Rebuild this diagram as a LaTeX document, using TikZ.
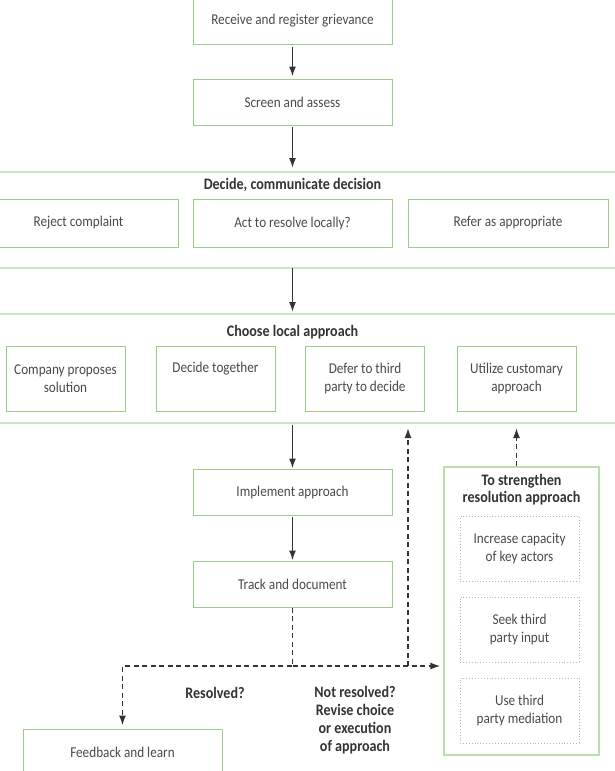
\documentclass[tikz,border=0pt]{standalone}
\usepackage{fontspec}
\setmainfont{Carlito}[FakeStretch=0.88]
\usetikzlibrary{arrows.meta}
\definecolor{gbox}{HTML}{98CE88}
\definecolor{gband}{HTML}{C8E6BF}
\definecolor{txt}{HTML}{4A4A4A}
\definecolor{arrc}{HTML}{333333}
\begin{document}
\begin{tikzpicture}[x=1pt,y=-1pt,
  box/.style={draw=gbox,line width=1pt,minimum width=199pt,minimum height=46pt,inner sep=0pt,text=txt,font=\fontsize{15}{18}\selectfont,align=center},
  appbox/.style={box,minimum width=119pt,minimum height=65pt},
  dotbox/.style={draw=gbox,line width=0.9pt,dotted,minimum width=119pt,minimum height=65pt,inner sep=0pt,text=txt,font=\fontsize{15}{18}\selectfont,align=center},
  outerbox/.style={draw=gband!70!gbox,line width=1.1pt,minimum width=155pt,minimum height=288pt,inner sep=0pt},
  ttl/.style={text=arrc,font=\bfseries\fontsize{16}{17}\selectfont,align=center,inner sep=0pt},
  bandline/.style={draw=gband,line width=1.2pt},
  sarr/.style={draw=arrc,line width=1.6pt,-{Latex[length=10pt,width=7pt]}},
  darr/.style={draw=arrc,line width=1.6pt,dash pattern=on 5pt off 3.5pt,-{Latex[length=10pt,width=7pt]}}
]
\clip (0,0) rectangle (615,771);
\fill[white] (0,0) rectangle (615,771);

% band coordinates
\coordinate (b1t) at (0,172);
\coordinate (b1b) at (0,268);
\coordinate (b2t) at (0,314);
\coordinate (b2b) at (0,423);
\coordinate (b1tr) at (615,172);
\coordinate (b1br) at (615,268);
\coordinate (b2tr) at (615,314);
\coordinate (b2br) at (615,423);
\draw[bandline] (b1t) -- (b1tr);
\draw[bandline] (b1b) -- (b1br);
\draw[bandline] (b2t) -- (b2tr);
\draw[bandline] (b2b) -- (b2br);

% main column
\node[box] (recv) at (292.5,21) {Receive and register grievance};
\node[box] (screen) at (292.5,102) {Screen and assess};

\node[ttl] (t1) at (292.5,185) {Decide, communicate decision};
\node[box,minimum height=48pt] (reject) at (78.5,223) {Reject complaint};
\node[box,minimum height=48pt] (act) at (292.5,223) {Act to resolve locally?};
\node[box,minimum height=48pt,minimum width=200pt] (refer) at (508,223) {Refer as appropriate};

\node[ttl] (t2) at (292.5,332) {Choose local approach};
\node[appbox] (company) at (65.5,378.5) {Company proposes\\solution};
\node[appbox] (together) at (215.5,378.5) {Decide together\\\strut};
\node[appbox] (defer) at (365,378.5) {Defer to third\\party to decide};
\node[appbox] (util) at (516.5,378.5) {Utilize customary\\approach};

\node[box] (impl) at (292.5,492) {Implement approach};
\node[box] (track) at (292.5,584) {Track and document};
\node[box] (fb) at (122.5,752) {Feedback and learn};

% right panel
\node[outerbox] (outer) at (521.5,611) {};
\node[ttl] (t3) at (521.5,489.5) {To strengthen\\resolution approach};
\node[dotbox] (cap) at (519.5,549) {Increase capacity\\of key actors};
\node[dotbox] (seek) at (519.5,629.5) {Seek third\\party input};
\node[dotbox] (med) at (519.5,710.5) {Use third\\party mediation};

% labels
\node[ttl] (res) at (215,693) {Resolved?};
\node[ttl,font=\bfseries\fontsize{16}{18}\selectfont] (notres) at (355,720) {Not resolved?\\Revise choice\\or execution\\of approach};

% solid arrows
\draw[sarr,shorten >=2pt,shorten <=2pt] (recv.south) -- (screen.north);
\draw[sarr,shorten >=4pt,shorten <=1pt] (screen.south) -- (screen.south |- b1t);
\draw[sarr,shorten >=2pt] (act.south |- b1b) -- (act.south |- b2t);
\draw[sarr,shorten <=2pt] (act.south |- b2b) -- (impl.north);
\draw[sarr,shorten <=1pt] (impl.south) -- (track.north);

% dashed feedback
\coordinate (jn) at (292.5,666);
\coordinate (jl) at (122.5,666);
\coordinate (jr) at (408,666);
\draw[darr,shorten >=3pt] (track.south) -- (jn) -- (jl) -- (fb.north);
\draw[darr,shorten >=3pt] (jn) -- (outer.west |- jn);
\draw[darr,shorten >=5pt] (jr) -- (jr |- b2b);
\draw[darr,shorten >=5pt] (util.south |- outer.north) -- (util.south |- b2b);
\end{tikzpicture}
\end{document}
